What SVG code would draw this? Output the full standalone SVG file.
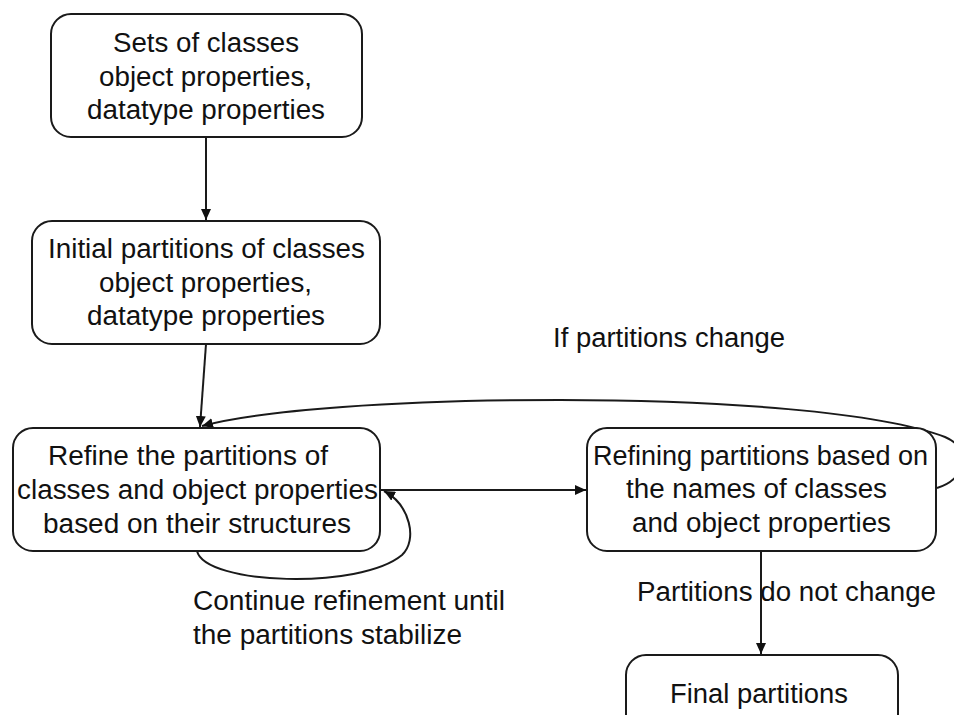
<svg xmlns="http://www.w3.org/2000/svg" width="954" height="715" viewBox="0 0 954 715">
<style>
.box{fill:#fff;stroke:#1a1a1a;stroke-width:2}
.t{font-family:"Liberation Sans",Arial,sans-serif;font-size:27px;fill:#111}
.c{fill:none;stroke:#1a1a1a;stroke-width:2}
</style>
<defs>
<marker id="ah" markerUnits="userSpaceOnUse" markerWidth="12" markerHeight="10" refX="11" refY="5" orient="auto">
<path d="M0,0 L11,5 L0,10 Z" fill="#111"/>
</marker>
</defs>
<rect width="954" height="715" fill="#fff"/>
<g id="connectors">
<line class="c" x1="206" y1="137" x2="206" y2="220" marker-end="url(#ah)"/>
<line class="c" x1="206" y1="344" x2="200" y2="427" marker-end="url(#ah)"/>
<path class="c" d="M 197 551 C 205 585, 360 590, 402 555 C 418 540, 410 505, 384 491" marker-end="url(#ah)"/>
<line class="c" x1="381" y1="490" x2="586" y2="490" marker-end="url(#ah)"/>
<path class="c" d="M 937 488 C 965 480, 975 450, 945 437 C 880 412, 720 400, 560 400 C 400 400, 260 410, 202 426" marker-end="url(#ah)"/>
<line class="c" x1="761" y1="551" x2="761" y2="654" marker-end="url(#ah)"/>
</g>
<g id="n1">
<rect class="box" x="51" y="14" width="311" height="123" rx="20"/>
<text class="t" x="113" y="52" textLength="186" lengthAdjust="spacingAndGlyphs">Sets of classes</text>
<text class="t" x="99" y="86" textLength="213" lengthAdjust="spacingAndGlyphs">object properties,</text>
<text class="t" x="87" y="119" textLength="238" lengthAdjust="spacingAndGlyphs">datatype properties</text>
</g>
<g id="n2">
<rect class="box" x="32" y="221" width="348" height="123" rx="20"/>
<text class="t" x="48" y="258" textLength="317" lengthAdjust="spacingAndGlyphs">Initial partitions of classes</text>
<text class="t" x="99" y="292" textLength="213" lengthAdjust="spacingAndGlyphs">object properties,</text>
<text class="t" x="87" y="325" textLength="238" lengthAdjust="spacingAndGlyphs">datatype properties</text>
</g>
<g id="n3">
<rect class="box" x="13" y="428" width="367" height="123" rx="20"/>
<text class="t" x="48" y="465" textLength="280" lengthAdjust="spacingAndGlyphs">Refine the partitions of</text>
<text class="t" x="17" y="499" textLength="361" lengthAdjust="spacingAndGlyphs">classes and object properties</text>
<text class="t" x="43" y="533" textLength="308" lengthAdjust="spacingAndGlyphs">based on their structures</text>
</g>
<g id="n4">
<rect class="box" x="587" y="428" width="349" height="123" rx="20"/>
<text class="t" x="593" y="465" textLength="335" lengthAdjust="spacingAndGlyphs">Refining partitions based on</text>
<text class="t" x="626" y="498" textLength="261" lengthAdjust="spacingAndGlyphs">the names of classes</text>
<text class="t" x="632" y="532" textLength="259" lengthAdjust="spacingAndGlyphs">and object properties</text>
</g>
<g id="n5">
<rect class="box" x="626" y="655" width="272" height="90" rx="20"/>
<text class="t" x="670" y="703" textLength="178" lengthAdjust="spacingAndGlyphs">Final partitions</text>
</g>
<g id="labels">
<text class="t" x="553" y="347" textLength="232" lengthAdjust="spacingAndGlyphs">If partitions change</text>
<text class="t" x="193" y="610" textLength="312" lengthAdjust="spacingAndGlyphs">Continue refinement until</text>
<text class="t" x="193" y="644" textLength="269" lengthAdjust="spacingAndGlyphs">the partitions stabilize</text>
<text class="t" x="637" y="601" textLength="299" lengthAdjust="spacingAndGlyphs">Partitions do not change</text>
</g>
</svg>
